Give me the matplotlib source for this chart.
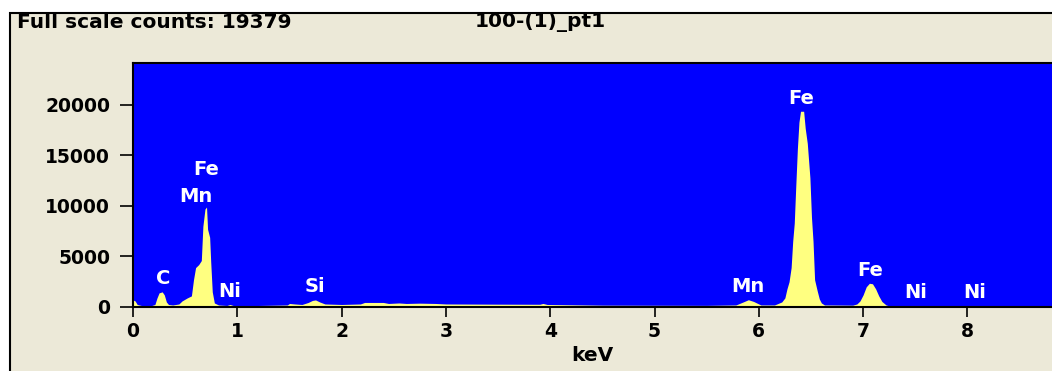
import matplotlib
matplotlib.use("Agg")
import matplotlib.pyplot as plt
from matplotlib.patches import Rectangle
import numpy as np

# spectrum (keV, counts)
energy = [0.00, 0.02, 0.04, 0.08, 0.18, 0.21, 0.23, 0.25, 0.28, 0.30, 0.32, 0.34,
          0.38, 0.44, 0.47, 0.52, 0.56, 0.58, 0.60, 0.63, 0.655, 0.67, 0.69, 0.705,
          0.715, 0.735, 0.745, 0.76, 0.78, 0.82, 0.90, 0.93, 0.96, 1.20, 1.48, 1.50,
          1.55, 1.62, 1.68, 1.72, 1.75, 1.79, 1.84, 2.00, 2.18, 2.22, 2.40, 2.45,
          2.55, 2.62, 2.75, 2.90, 3.00, 3.50, 3.90, 3.93, 3.97, 4.50, 5.50, 5.78,
          5.85, 5.90, 5.95, 6.02, 6.15, 6.22, 6.25, 6.27, 6.29, 6.31, 6.325, 6.34,
          6.355, 6.37, 6.385, 6.40, 6.43, 6.445, 6.465, 6.49, 6.505, 6.52, 6.535, 6.56,
          6.58, 6.60, 6.63, 6.90, 6.94, 6.97, 7.00, 7.03, 7.06, 7.09, 7.12, 7.15,
          7.18, 7.22, 7.27, 7.40, 7.45, 7.55, 7.58, 7.98, 8.02, 8.12, 8.15, 8.85]
counts = [700, 600, 250, 150, 150, 250, 900, 1400, 1500, 1200, 500, 250,
          200, 300, 600, 900, 1100, 2700, 3900, 4200, 4600, 8000, 9700, 9900,
          7700, 6900, 4500, 1500, 400, 200, 150, 250, 150, 150, 200, 350,
          300, 250, 450, 650, 700, 500, 300, 250, 300, 450, 450, 350,
          400, 350, 380, 350, 300, 280, 270, 350, 250, 180, 160, 200,
          500, 720, 550, 200, 200, 500, 900, 1800, 2500, 3900, 6500, 8300,
          12100, 15700, 18300, 19379, 19379, 17700, 16200, 12800, 8900, 6500, 2700, 1600,
          800, 400, 200, 180, 300, 600, 1200, 2000, 2350, 2300, 1800, 1100,
          550, 200, 60, 40, 150, 150, 40, 40, 150, 150, 30, 30]

peak_names = ["C", "Mn", "Fe", "Ni", "Si", "Mn", "Fe", "Fe", "Ni", "Ni"]
peak_keV = [0.29, 0.60, 0.70, 0.93, 1.745, 5.90, 6.41, 7.07, 7.50, 8.07]
peak_level = [0, 0, 1, 0, 0, 0, 0, 0, 0, 0]

y_ticks = [0, 5000, 10000, 15000, 20000]
x_ticks = [0, 1, 2, 3, 4, 5, 6, 7, 8]

W, H = 1052, 371
plt.rcParams['font.family'] = 'DejaVu Sans'
plt.rcParams['font.weight'] = 'bold'

fig = plt.figure(figsize=(W / 100, H / 100), dpi=100)
fig.patch.set_facecolor('white')
panel = Rectangle((10 / W, -0.2), 1.5, (H - 13) / H + 0.2, transform=fig.transFigure,
                  facecolor='#ECE9D8', edgecolor='black', lw=1.5, zorder=-10)
fig.add_artist(panel)

fig.text(17 / W, 1 - 22 / H, "Full scale counts: 19379", fontsize=14.5,
         weight='bold', va='center', ha='left')
fig.text(475 / W, 1 - 22 / H, "100-(1)_pt1", fontsize=14.5,
         weight='bold', va='center', ha='left')

ax = fig.add_axes([133 / W, 64 / H, 1 - 133 / W, 244 / H])
ax.set_facecolor('#0000FF')
ax.fill_between(energy, 0, counts, color='#FFFF80', lw=0)
ax.set_xlim(0, (W - 133) / 104.3)
ax.set_ylim(0, 24158)

ax.set_xticks(x_ticks)
ax.set_yticks(y_ticks)
ax.tick_params(axis='y', direction='out', length=9.5, width=1.2, pad=7, labelsize=13.5)
ax.tick_params(axis='x', direction='out', length=7.5, width=1.2, pad=3, labelsize=13.5)
for lab in ax.get_xticklabels() + ax.get_yticklabels():
    lab.set_fontweight('bold')
ax.spines['right'].set_visible(False)
for s in ['left', 'bottom', 'top']:
    ax.spines[s].set_linewidth(1.5)
ax.set_xlabel("keV", fontsize=14.5, weight='bold', labelpad=4)

e = np.array(energy)
c = np.array(counts)
for name, k, lev in zip(peak_names, peak_keV, peak_level):
    top = c[(e > k - 0.1) & (e < k + 0.1)].max()
    ax.annotate(name, (k, top), xytext=(0, (13 + 25 * lev) * 0.72),
                textcoords='offset points', ha='center', va='center',
                color='white', weight='bold', fontsize=14)

fig.savefig("out.png", dpi=100)
